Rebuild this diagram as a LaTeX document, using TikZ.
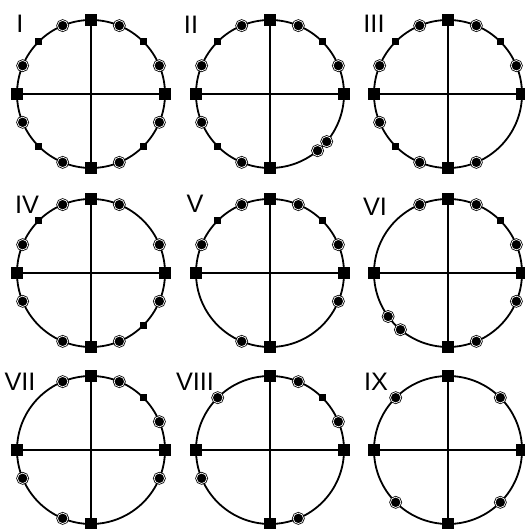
\documentclass[tikz,border=0pt]{standalone}
\usepackage{fontspec}
\setmainfont{Liberation Sans}

\begin{document}
\begin{tikzpicture}[x=0.05cm,y=0.05cm,
  rim/.style={line width=0.09cm},
  axis/.style={line width=0.075cm},
  bigsq/.style={rectangle,fill=black,inner sep=0pt,minimum size=0.56cm},
  smallsq/.style={rectangle,fill=black,inner sep=0pt,minimum size=0.38cm},
  ringdot/.style={circle,fill=black,draw=black,double=white,double distance=0.035cm,
    line width=0.04cm,inner sep=0pt,minimum size=0.52cm},
  numeral/.style={font=\fontsize{36}{36}\selectfont,inner sep=0pt}]

\useasboundingbox (0,0) rectangle (525,529);

% Panel I
\begin{scope}[shift={(91,435)}]
\draw[rim] (0,0) circle (74);
\node[bigsq] (Ie) at (0:74) {};
\node[bigsq] (In) at (90:74) {};
\node[bigsq] (Iw) at (180:74) {};
\node[bigsq] (Is) at (270:74) {};
\draw[axis] (Iw) -- (Ie);
\draw[axis] (In) -- (Is);
\foreach \a [count=\k] in {45,135,225,315}
  \node[smallsq] (Iq\k) at (\a:74) {};
\foreach \a [count=\k] in {22.5,67.5,112.5,157.5,202.5,247.5,292.5,337.5}
  \node[ringdot] (Ir\k) at (\a:74) {};
\node[numeral] (Ilab) at (-71,70) {I};
\end{scope}

% Panel II
\begin{scope}[shift={(270,435)}]
\draw[rim] (0,0) circle (74);
\node[bigsq] (IIe) at (0:74) {};
\node[bigsq] (IIn) at (90:74) {};
\node[bigsq] (IIw) at (180:74) {};
\node[bigsq] (IIs) at (270:74) {};
\draw[axis] (IIw) -- (IIe);
\draw[axis] (IIn) -- (IIs);
\foreach \a [count=\k] in {45,135,225}
  \node[smallsq] (IIq\k) at (\a:74) {};
\foreach \a [count=\k] in {22.5,67.5,112.5,157.5,202.5,247.5,310,320}
  \node[ringdot] (IIr\k) at (\a:74) {};
\node[numeral] (IIlab) at (-79,69) {II};
\end{scope}

% Panel III
\begin{scope}[shift={(448,435)}]
\draw[rim] (0,0) circle (74);
\node[bigsq] (IIIe) at (0:74) {};
\node[bigsq] (IIIn) at (90:74) {};
\node[bigsq] (IIIw) at (180:74) {};
\node[bigsq] (IIIs) at (270:74) {};
\draw[axis] (IIIw) -- (IIIe);
\draw[axis] (IIIn) -- (IIIs);
\foreach \a [count=\k] in {45,135,225}
  \node[smallsq] (IIIq\k) at (\a:74) {};
\foreach \a [count=\k] in {22.5,67.5,112.5,157.5,202.5,247.5,292.5}
  \node[ringdot] (IIIr\k) at (\a:74) {};
\node[numeral] (IIIlab) at (-74,70) {III};
\end{scope}

% Panel IV
\begin{scope}[shift={(91,256)}]
\draw[rim] (0,0) circle (74);
\node[bigsq] (IVe) at (0:74) {};
\node[bigsq] (IVn) at (90:74) {};
\node[bigsq] (IVw) at (180:74) {};
\node[bigsq] (IVs) at (270:74) {};
\draw[axis] (IVw) -- (IVe);
\draw[axis] (IVn) -- (IVs);
\foreach \a [count=\k] in {135,315}
  \node[smallsq] (IVq\k) at (\a:74) {};
\foreach \a [count=\k] in {22.5,67.5,112.5,157.5,202.5,247.5,292.5,337.5}
  \node[ringdot] (IVr\k) at (\a:74) {};
\node[numeral] (IVlab) at (-64,68) {IV};
\end{scope}

% Panel V
\begin{scope}[shift={(270,256)}]
\draw[rim] (0,0) circle (74);
\node[bigsq] (Ve) at (0:74) {};
\node[bigsq] (Vn) at (90:74) {};
\node[bigsq] (Vw) at (180:74) {};
\node[bigsq] (Vs) at (270:74) {};
\draw[axis] (Vw) -- (Ve);
\draw[axis] (Vn) -- (Vs);
\foreach \a [count=\k] in {45,135}
  \node[smallsq] (Vq\k) at (\a:74) {};
\foreach \a [count=\k] in {22.5,67.5,112.5,157.5,247.5,337.5}
  \node[ringdot] (Vr\k) at (\a:74) {};
\node[numeral] (Vlab) at (-75,69) {V};
\end{scope}

% Panel VI
\begin{scope}[shift={(448,256)}]
\draw[rim] (0,0) circle (74);
\node[bigsq] (VIe) at (0:74) {};
\node[bigsq] (VIn) at (90:74) {};
\node[bigsq] (VIw) at (180:74) {};
\node[bigsq] (VIs) at (270:74) {};
\draw[axis] (VIw) -- (VIe);
\draw[axis] (VIn) -- (VIs);
\node[smallsq] (VIq1) at (45:74) {};
\foreach \a [count=\k] in {22.5,67.5,112.5,216,230,292.5,337.5}
  \node[ringdot] (VIr\k) at (\a:74) {};
\node[numeral] (VIlab) at (-73,66) {VI};
\end{scope}

% Panel VII
\begin{scope}[shift={(91,79)}]
\draw[rim] (0,0) circle (74);
\node[bigsq] (VIIe) at (0:74) {};
\node[bigsq] (VIIn) at (90:74) {};
\node[bigsq] (VIIw) at (180:74) {};
\node[bigsq] (VIIs) at (270:74) {};
\draw[axis] (VIIw) -- (VIIe);
\draw[axis] (VIIn) -- (VIIs);
\node[smallsq] (VIIq1) at (45:74) {};
\foreach \a [count=\k] in {22.5,67.5,112.5,202.5,247.5,337.5}
  \node[ringdot] (VIIr\k) at (\a:74) {};
\node[numeral] (VIIlab) at (-71,68) {VII};
\end{scope}

% Panel VIII
\begin{scope}[shift={(270,79)}]
\draw[rim] (0,0) circle (74);
\node[bigsq] (VIIIe) at (0:74) {};
\node[bigsq] (VIIIn) at (90:74) {};
\node[bigsq] (VIIIw) at (180:74) {};
\node[bigsq] (VIIIs) at (270:74) {};
\draw[axis] (VIIIw) -- (VIIIe);
\draw[axis] (VIIIn) -- (VIIIs);
\node[smallsq] (VIIIq1) at (45:74) {};
\foreach \a [count=\k] in {22.5,67.5,135,202.5,292.5}
  \node[ringdot] (VIIIr\k) at (\a:74) {};
\node[numeral] (VIIIlab) at (-75,68) {VIII};
\end{scope}

% Panel IX
\begin{scope}[shift={(448,79)}]
\draw[rim] (0,0) circle (74);
\node[bigsq] (IXe) at (0:74) {};
\node[bigsq] (IXn) at (90:74) {};
\node[bigsq] (IXw) at (180:74) {};
\node[bigsq] (IXs) at (270:74) {};
\draw[axis] (IXw) -- (IXe);
\draw[axis] (IXn) -- (IXs);
\foreach \a [count=\k] in {45,135,225,315}
  \node[ringdot] (IXr\k) at (\a:74) {};
\node[numeral] (IXlab) at (-72,68) {IX};
\end{scope}

\end{tikzpicture}
\end{document}
